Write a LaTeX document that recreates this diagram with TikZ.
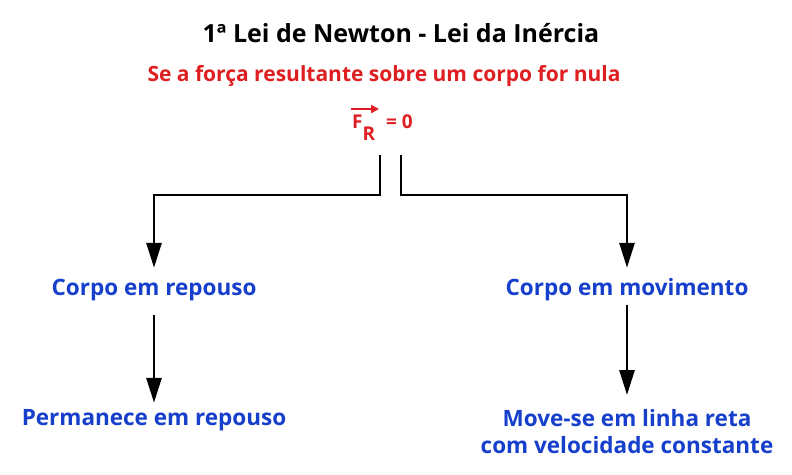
\documentclass[tikz,border=0pt]{standalone}
\usepackage{fontspec}
\setmainfont{Open Sans}
\usetikzlibrary{arrows.meta,positioning,calc}
\definecolor{leiRed}{RGB}{222,30,32}
\definecolor{leiBlue}{RGB}{22,64,204}

\begin{document}
\begin{tikzpicture}[x=1pt,y=-1pt,
    txt/.style={font=\bfseries\fontsize{22.5}{27}\selectfont,inner sep=0pt,align=center},
    estado/.style={txt,text=leiBlue,text height=16pt,text depth=5pt},
    ar/.style={-{Triangle[length=25pt,width=15pt]},line width=2.8pt}]

    \useasboundingbox (0,0) rectangle (792,474);

    \node[txt,font=\bfseries\fontsize{25}{30}\selectfont] (titulo) at (401,33)
      {1ª Lei de Newton - Lei da Inércia};
    \node[txt,text=leiRed,font=\bfseries\fontsize{21}{25}\selectfont] (cond) at (384,76)
      {Se a força resultante sobre um corpo for nula};
    \node[txt,text=leiRed,font=\bfseries\fontsize{19}{23}\selectfont,anchor=base west] (fr)
      at (352,128) {F\raisebox{-12pt}{R}\hspace{11pt}= 0};
    \draw[-{Triangle[length=8pt,width=8pt]},leiRed,line width=2.2pt]
      ($(fr.north west)+(-1,-5)$) -- +(28,0);

    % ramos
    \coordinate (sep) at (390.5,155);
    \node[estado] (repouso) at (154,290) {Corpo em repouso};
    \node[estado] (movim) at (627,290) {Corpo em movimento};
    \node[estado] (perm) at (154,420) {Permanece em repouso};
    \node[txt,text=leiBlue,anchor=north] (reta) at (627,409)
      {Move-se em linha reta\\com velocidade constante};

    \draw[ar] ([xshift=-10.5pt]sep) -- ++(0,40) -| ([yshift=11.5pt]repouso.north);
    \draw[ar] ([xshift=10.5pt]sep) -- ++(0,40) -| ([yshift=11.5pt]movim.north);
    \draw[ar] ([yshift=-14.5pt]repouso.south) -- ([yshift=6.5pt]perm.north);
    \draw[ar] ([yshift=-4.5pt]movim.south) -- ([yshift=14pt]reta.north);
\end{tikzpicture}
\end{document}
